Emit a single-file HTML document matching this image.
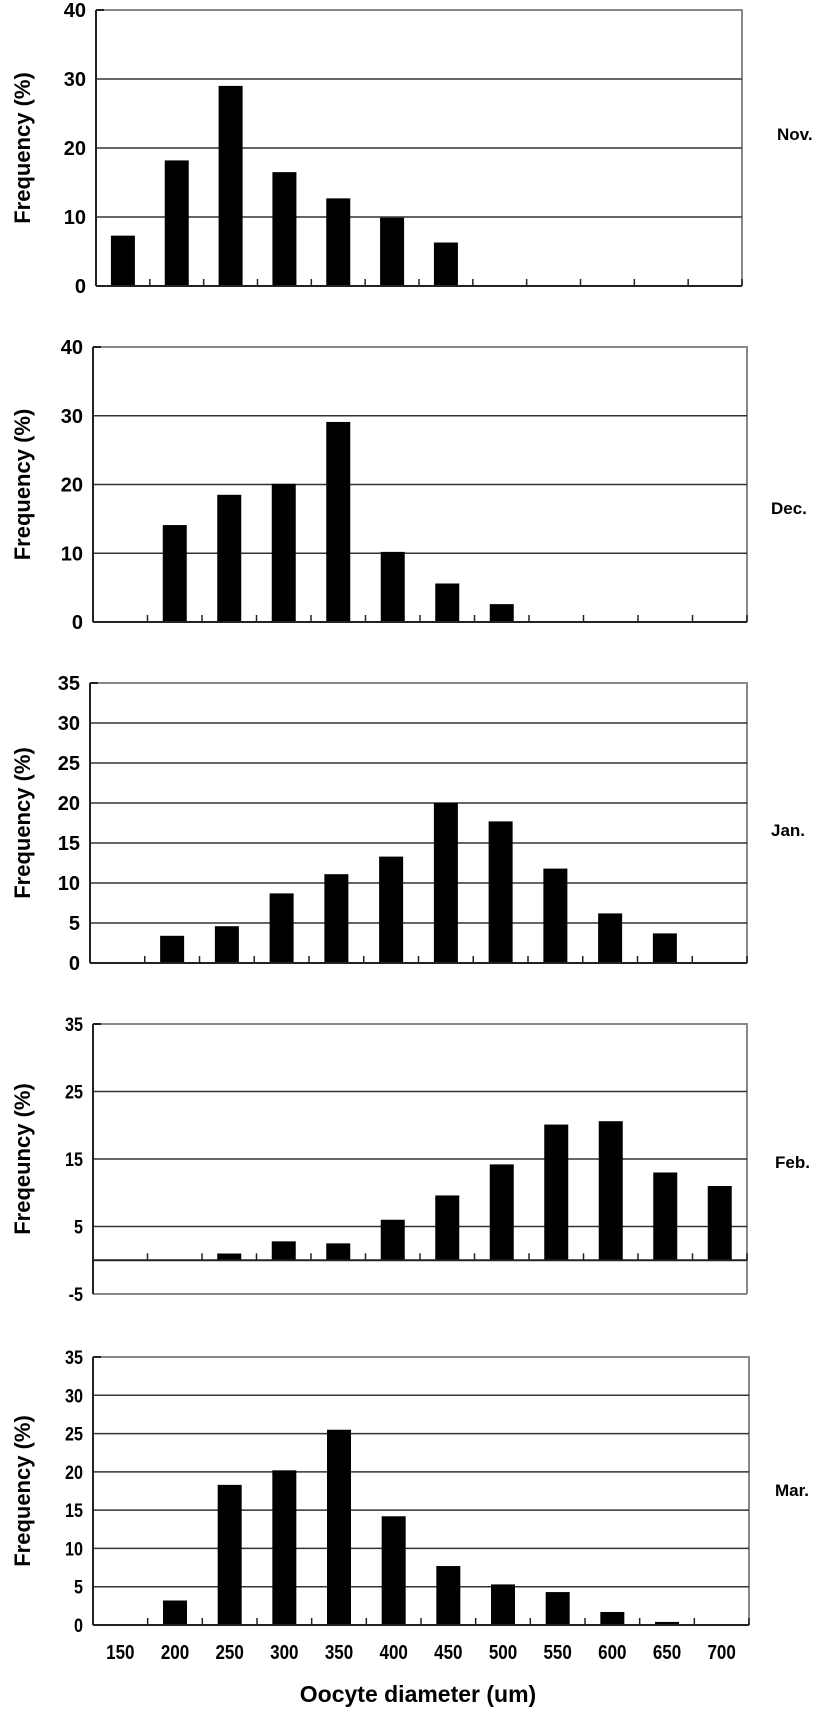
<!DOCTYPE html>
<html><head><meta charset="utf-8"><style>
html,body{margin:0;padding:0;background:#fff}
svg{display:block}
text{font-family:"Liberation Sans",Arial,sans-serif;font-weight:bold;fill:#000}
</style></head><body>
<svg id="chart" width="827" height="1734" viewBox="0 0 827 1734" xmlns="http://www.w3.org/2000/svg"></svg>
<script>
const categories = ["150","200","250","300","350","400","450","500","550","600","650","700"];
const months = ["Nov.","Dec.","Jan.","Feb.","Mar."];
const novValues = [7.3,18.2,29,16.5,12.7,9.9,6.3,0,0,0,0,0];
const decValues = [0,14.1,18.5,20.1,29.1,10.2,5.6,2.6,0,0,0,0];
const janValues = [0,3.4,4.6,8.7,11.1,13.3,20,17.7,11.8,6.2,3.7,0];
const febValues = [0,0,1,2.8,2.5,6,9.6,14.2,20.1,20.6,13,11];
const marValues = [0,3.2,18.3,20.2,25.5,14.2,7.7,5.3,4.3,1.7,0.4,0];
const novTicks = [0,10,20,30,40];
const decTicks = [0,10,20,30,40];
const janTicks = [0,5,10,15,20,25,30,35];
const febTicks = [-5,5,15,25,35];
const marTicks = [0,5,10,15,20,25,30,35];

const NS="http://www.w3.org/2000/svg";
const svg=document.getElementById('chart');
function mk(tag,attrs,parent){const e=document.createElementNS(NS,tag);for(const k in attrs)e.setAttribute(k,attrs[k]);(parent||svg).appendChild(e);return e;}

const panels=[
 {vals:novValues,ticks:novTicks,min:0,max:40,L:96,R:742,T:10,B:286,ylab:"Frequency (%)",lx:777,ly:140,cond:false},
 {vals:decValues,ticks:decTicks,min:0,max:40,L:93,R:747,T:347,B:622,ylab:"Frequency (%)",lx:771,ly:514,cond:false},
 {vals:janValues,ticks:janTicks,min:0,max:35,L:90,R:747,T:683,B:963,ylab:"Frequency (%)",lx:771,ly:836,cond:false},
 {vals:febValues,ticks:febTicks,min:-5,max:35,L:93,R:747,T:1024,B:1294,ylab:"Freqeuncy (%)",lx:775,ly:1168,cond:true},
 {vals:marValues,ticks:marTicks,min:0,max:35,L:93,R:749,T:1357,B:1625,ylab:"Frequency (%)",lx:775,ly:1496,cond:true}
];

panels.forEach((p,pi)=>{
  const g=mk('g',{});
  
  
  const y=v=>p.B-(v-p.min)/(p.max-p.min)*(p.B-p.T);
  const cw=(p.R-p.L)/categories.length;
  const x=i=>p.L+cw*(i+0.5);
  // border top/right
  const br=mk('path',{d:`M${p.L} ${p.T}H${p.R}V${p.B}`,fill:'none',stroke:'#888','stroke-width':2},g);
  
  
  // gridlines
  p.ticks.forEach(t=>{
    if(t!==p.min && t!==p.max){
      const gl=mk('line',{x1:p.L,x2:p.R,y1:y(t),y2:y(t),stroke:'#333','stroke-width':1.5},g);
      
      
    }
    const tl=mk('text',{x:p.L-10,y:y(t)+7,'text-anchor':'end','font-size':p.cond?19:20},g);
    if(p.cond) tl.setAttribute('transform',`translate(${p.L-10} 0) scale(0.85 1) translate(${-(p.L-10)} 0)`);
    tl.textContent=t;
    
    
  });
  if(p.min<0){
    // bottom border
    const bb=mk('line',{x1:p.L,x2:p.R,y1:p.B,y2:p.B,stroke:'#888','stroke-width':2},g);
    
    
  }
  // bars
  p.vals.forEach((v,i)=>{
    if(v<=0) return;
    const r=mk('rect',{x:x(i)-12,y:y(v),width:24,height:y(0)-y(v),fill:'#000'},g);
    
    
  });
  // x axis at 0
  const xa=mk('line',{x1:p.L,x2:p.R,y1:y(0),y2:y(0),stroke:'#222','stroke-width':2},g);
  
  
  for(let i=1;i<=categories.length;i++){
    const tk=mk('line',{x1:p.L+cw*i,x2:p.L+cw*i,y1:y(0),y2:y(0)-7,stroke:'#222','stroke-width':1.5},g);
    
    
  }
  // y axis
  const ya=mk('line',{x1:p.L,x2:p.L,y1:p.T,y2:p.B,stroke:'#222','stroke-width':2},g);
  
  
  mk('line',{x1:p.L,x2:p.L+8,y1:p.T,y2:p.T,stroke:'#222','stroke-width':2},g);
  // y title
  const cy=(p.T+p.B)/2;
  const yt=mk('text',{x:0,y:0,'text-anchor':'middle','font-size':22,transform:`translate(30 ${cy}) rotate(-90)`},g);
  yt.textContent=p.ylab;
  
  
  // month label
  const ml=mk('text',{x:p.lx,y:p.ly,'font-size':17},g);
  ml.textContent=months[pi];
  
  
  if(pi===4){
    categories.forEach((c,i)=>{
      const t=mk('text',{x:x(i),y:1659,'text-anchor':'middle','font-size':20,transform:`translate(${x(i)} 0) scale(0.85 1) translate(${-x(i)} 0)`},g);
      t.textContent=c;
      
      
    });
  }
});
const xt=mk('text',{x:418,y:1702,'text-anchor':'middle','font-size':23});
xt.textContent="Oocyte diameter (um)";


</script>
</body></html>
